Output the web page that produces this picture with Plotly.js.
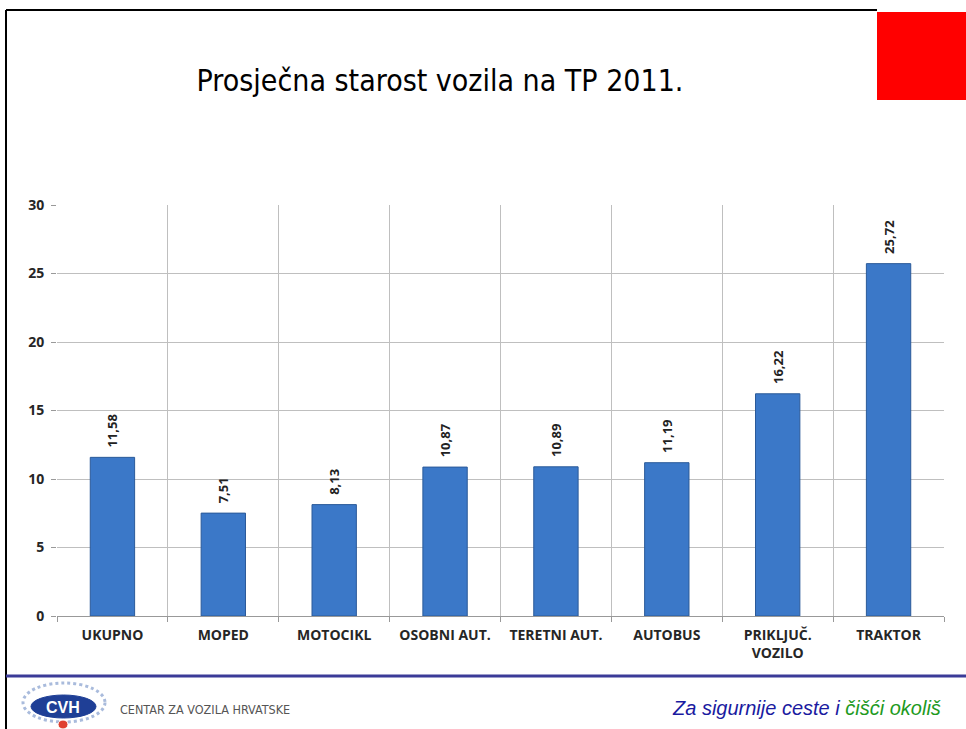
<!DOCTYPE html>
<html>
<head>
<meta charset="utf-8">
<script src="https://cdn.plot.ly/plotly-3.0.1.min.js"></script>
<style>html,body{margin:0;padding:0;background:#fff;}#chart{width:966px;height:729px;}</style>
</head>
<body>
<div id="chart"></div>
<script>
const categories = ["UKUPNO", "MOPED", "MOTOCIKL", "OSOBNI AUT.", "TERETNI AUT.", "AUTOBUS", "PRIKLJUČ.<br>VOZILO", "TRAKTOR"];
const values = [11.58, 7.51, 8.13, 10.87, 10.89, 11.19, 16.22, 25.72];
const yTicks = [0, 5, 10, 15, 20, 25, 30];
const titleText = "Prosječna starost vozila na TP 2011.";
const logoText = "CVH";
const footerLeft = "CENTAR ZA VOZILA HRVATSKE";
const footerRightA = "Za sigurnije ceste i ";
const footerRightB = "čišći okoliš";

const W = 966, H = 729;
const M = {l: 57, r: 22, t: 205, b: 113};
const PW = W - M.l - M.r, PH = H - M.t - M.b;
const px = x => (x - M.l) / PW;
const py = y => (H - M.b - y) / PH;

const labelFont = {family: 'Open Sans, Liberation Sans, sans-serif', size: 14, color: '#262626', weight: 'bold'};

const trace = {
  type: 'bar',
  x: categories,
  y: values,
  width: 0.4,
  marker: {color: '#3b78c8', line: {color: '#2b5a99', width: 1}},
  texttemplate: '\u00a0\u00a0%{y:.2f}',
  textposition: 'outside',
  textangle: -90,
  textfont: {family: 'Open Sans, Liberation Sans, sans-serif', size: 13, color: '#222', weight: 'bold'},
  cliponaxis: false,
  hoverinfo: 'skip'
};

const shapes = [
  {type: 'rect', xref: 'paper', yref: 'paper', x0: px(877), x1: px(968), y0: py(100), y1: py(12), fillcolor: '#ff0000', line: {width: 0}, layer: 'above'},
  {type: 'line', xref: 'paper', yref: 'paper', x0: px(6), x1: px(6), y0: py(10), y1: py(731), line: {color: '#000', width: 2}},
  {type: 'line', xref: 'paper', yref: 'paper', x0: px(6), x1: px(877), y0: py(10), y1: py(10), line: {color: '#000', width: 2}},
  {type: 'line', xref: 'paper', yref: 'paper', x0: px(6), x1: px(968), y0: py(676), y1: py(676), line: {color: '#3b3b98', width: 3}},
  {type: 'circle', xref: 'paper', yref: 'paper', x0: px(23), x1: px(105), y0: py(722), y1: py(683), fillcolor: '#ffffff', line: {color: '#a9bbdc', width: 3, dash: 'dot'}},
  {type: 'circle', xref: 'paper', yref: 'paper', x0: px(31), x1: px(96), y0: py(718), y1: py(695), fillcolor: '#1f3f96', line: {color: '#1f3f96', width: 1}},
  {type: 'circle', xref: 'paper', yref: 'paper', x0: px(58), x1: px(68), y0: py(729), y1: py(720), fillcolor: '#e04030', line: {color: '#ffffff', width: 1}}
];

const annotations = [
  {xref: 'paper', yref: 'paper', x: px(63), y: py(707), xanchor: 'center', yanchor: 'middle', text: '<b>' + logoText + '</b>', showarrow: false,
   font: {family: 'Liberation Sans, Arial, sans-serif', size: 16, color: '#ffffff'}},
  {xref: 'paper', yref: 'paper', x: px(118), y: py(709), xanchor: 'left', yanchor: 'middle', text: footerLeft, showarrow: false,
   font: {family: 'DejaVu Sans Condensed, Liberation Sans, Arial, sans-serif', size: 12.5, color: '#555'}},
  {xref: 'paper', yref: 'paper', x: px(943), y: py(708), xanchor: 'right', yanchor: 'middle', showarrow: false,
   text: '<i>' + footerRightA + '</i><i><span style="color:#1e9a1e">' + footerRightB + '</span></i>',
   font: {family: 'Liberation Sans, Arial, sans-serif', size: 20, color: '#1a1aa0'}}
];

const layout = {
  width: W, height: H,
  margin: M,
  paper_bgcolor: '#fff', plot_bgcolor: '#fff',
  separators: ',.',
  showlegend: false,
  title: {
    text: titleText, xref: 'container', yref: 'container', x: 440 / W, y: 1 - 80 / H,
    xanchor: 'center', yanchor: 'middle',
    font: {family: 'DejaVu Sans Condensed, Liberation Sans, Arial, sans-serif', size: 30, color: '#000'}
  },
  xaxis: {
    type: 'category', tickson: 'boundaries', showgrid: true, gridcolor: '#bfbfbf', gridwidth: 1,
    ticks: 'outside', ticklen: 5, tickcolor: '#999', showline: true, linecolor: '#999', linewidth: 1,
    ticklabelstandoff: 6,
    tickfont: labelFont,
    fixedrange: true, range: [-0.5, 7.5]
  },
  yaxis: {
    range: [0, 30], tickvals: yTicks, showgrid: true, gridcolor: '#bfbfbf', gridwidth: 1,
    ticks: 'outside', ticklen: 5, tickcolor: '#999', zeroline: false, showline: false,
    ticklabelstandoff: 4,
    tickfont: labelFont,
    fixedrange: true
  },
  shapes: shapes,
  annotations: annotations
};

Plotly.newPlot('chart', [trace], layout, {displayModeBar: false, staticPlot: true});
</script>
</body>
</html>
